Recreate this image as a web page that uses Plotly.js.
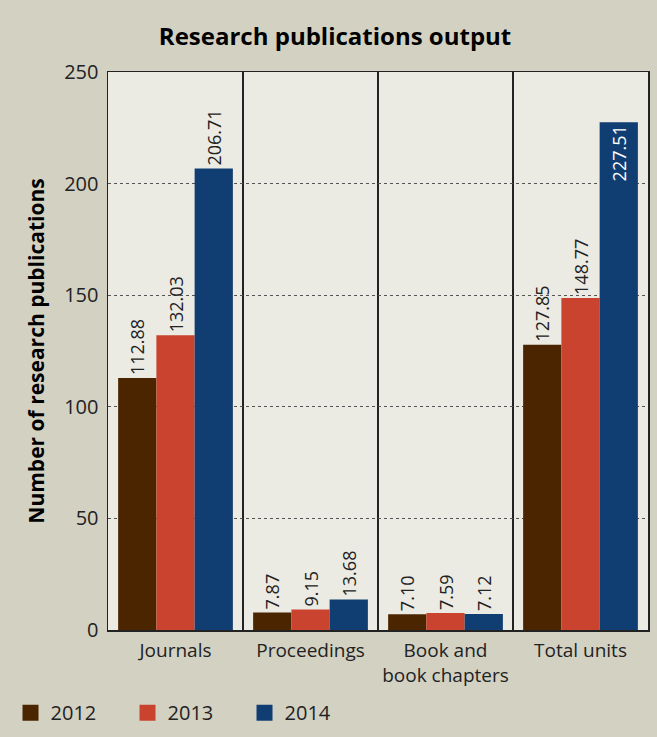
<!DOCTYPE html>
<html>
<head>
<meta charset="utf-8">
<script src="https://cdn.plot.ly/plotly-3.0.1.min.js"></script>
<style>html,body{margin:0;padding:0;background:#d3d1c2;}#chart{width:657px;height:737px;}</style>
</head>
<body>
<div id="chart"></div>
<script>
const categories = ["Journals", "Proceedings", "Book and<br>book chapters", "Total units"];
const years = ["2012", "2013", "2014"];
const values2012 = [112.88, 7.87, 7.10, 127.85];
const values2013 = [132.03, 9.15, 7.59, 148.77];
const values2014 = [206.71, 13.68, 7.12, 227.51];
const yTicks = [0, 50, 100, 150, 200, 250];
const colors = ["#4a2500", "#c9432e", "#113e72"];

const series = [values2012, values2013, values2014];
const font = "'Open Sans', 'Noto Sans', sans-serif";

const traces = series.map((vals, i) => ({
  type: "bar",
  name: years[i],
  x: categories,
  y: vals,
  marker: {color: colors[i]},
  text: vals.map(v => v.toFixed(2)),
  textangle: -90,
  textposition: vals.map(v => v > 220 ? "inside" : "outside"),
  insidetextanchor: "end",
  insidetextfont: {color: "#ffffff", size: 18, family: font},
  outsidetextfont: {color: "#222222", size: 18, family: font},
  constraintext: "none",
  cliponaxis: false,
  showlegend: false,
  hoverinfo: "x+y"
}));

years.forEach((yr, i) => {
  traces.push({
    type: "scatter",
    mode: "markers",
    name: yr,
    x: [null],
    y: [null],
    marker: {symbol: "square", size: 22, color: colors[i]},
    showlegend: true
  });
});

const layout = {
  width: 657,
  height: 737,
  paper_bgcolor: "#d3d1c2",
  plot_bgcolor: "#ebeae3",
  margin: {l: 108, r: 9, t: 72, b: 107},
  font: {family: font, color: "#222222", size: 18},
  uniformtext: {minsize: 18, mode: "show"},
  title: {
    text: "<b>Research publications output</b>",
    font: {family: font, size: 24, color: "#000000"},
    x: 0.51, xanchor: "center",
    y: 0.95, yanchor: "middle"
  },
  barmode: "group",
  bargap: 0.15,
  bargroupgap: 0,
  xaxis: {
    type: "category",
    tickson: "boundaries",
    showgrid: true,
    gridcolor: "#222222",
    gridwidth: 1.3,
    ticks: "",
    showline: true,
    linecolor: "#222222",
    linewidth: 1.5,
    mirror: true,
    ticklabelstandoff: 3,
    tickfont: {size: 19, family: font, color: "#222222"},
    automargin: false,
    fixedrange: true
  },
  yaxis: {
    range: [0, 250],
    tickvals: yTicks,
    ticks: "",
    showgrid: true,
    gridcolor: "#555555",
    griddash: "dot",
    gridwidth: 1,
    zeroline: false,
    showline: true,
    linecolor: "#222222",
    linewidth: 1.5,
    mirror: true,
    ticklabelstandoff: 4,
    tickfont: {size: 20, family: font, color: "#222222"},
    title: {
      text: "<b>Number of research publications</b>",
      font: {size: 21, family: font, color: "#000000"},
      standoff: 14
    },
    automargin: false,
    fixedrange: true
  },
  legend: {
    orientation: "h",
    xref: "container",
    yref: "container",
    x: 0.016, xanchor: "left",
    y: 0.033, yanchor: "middle",
    bgcolor: "rgba(0,0,0,0)",
    font: {size: 20, family: font, color: "#222222"},
    entrywidth: 72,
    entrywidthmode: "pixels",
    itemwidth: 30,
    traceorder: "normal"
  },
  showlegend: true
};

Plotly.newPlot("chart", traces, layout, {displayModeBar: false, staticPlot: true});
</script>
</body>
</html>
